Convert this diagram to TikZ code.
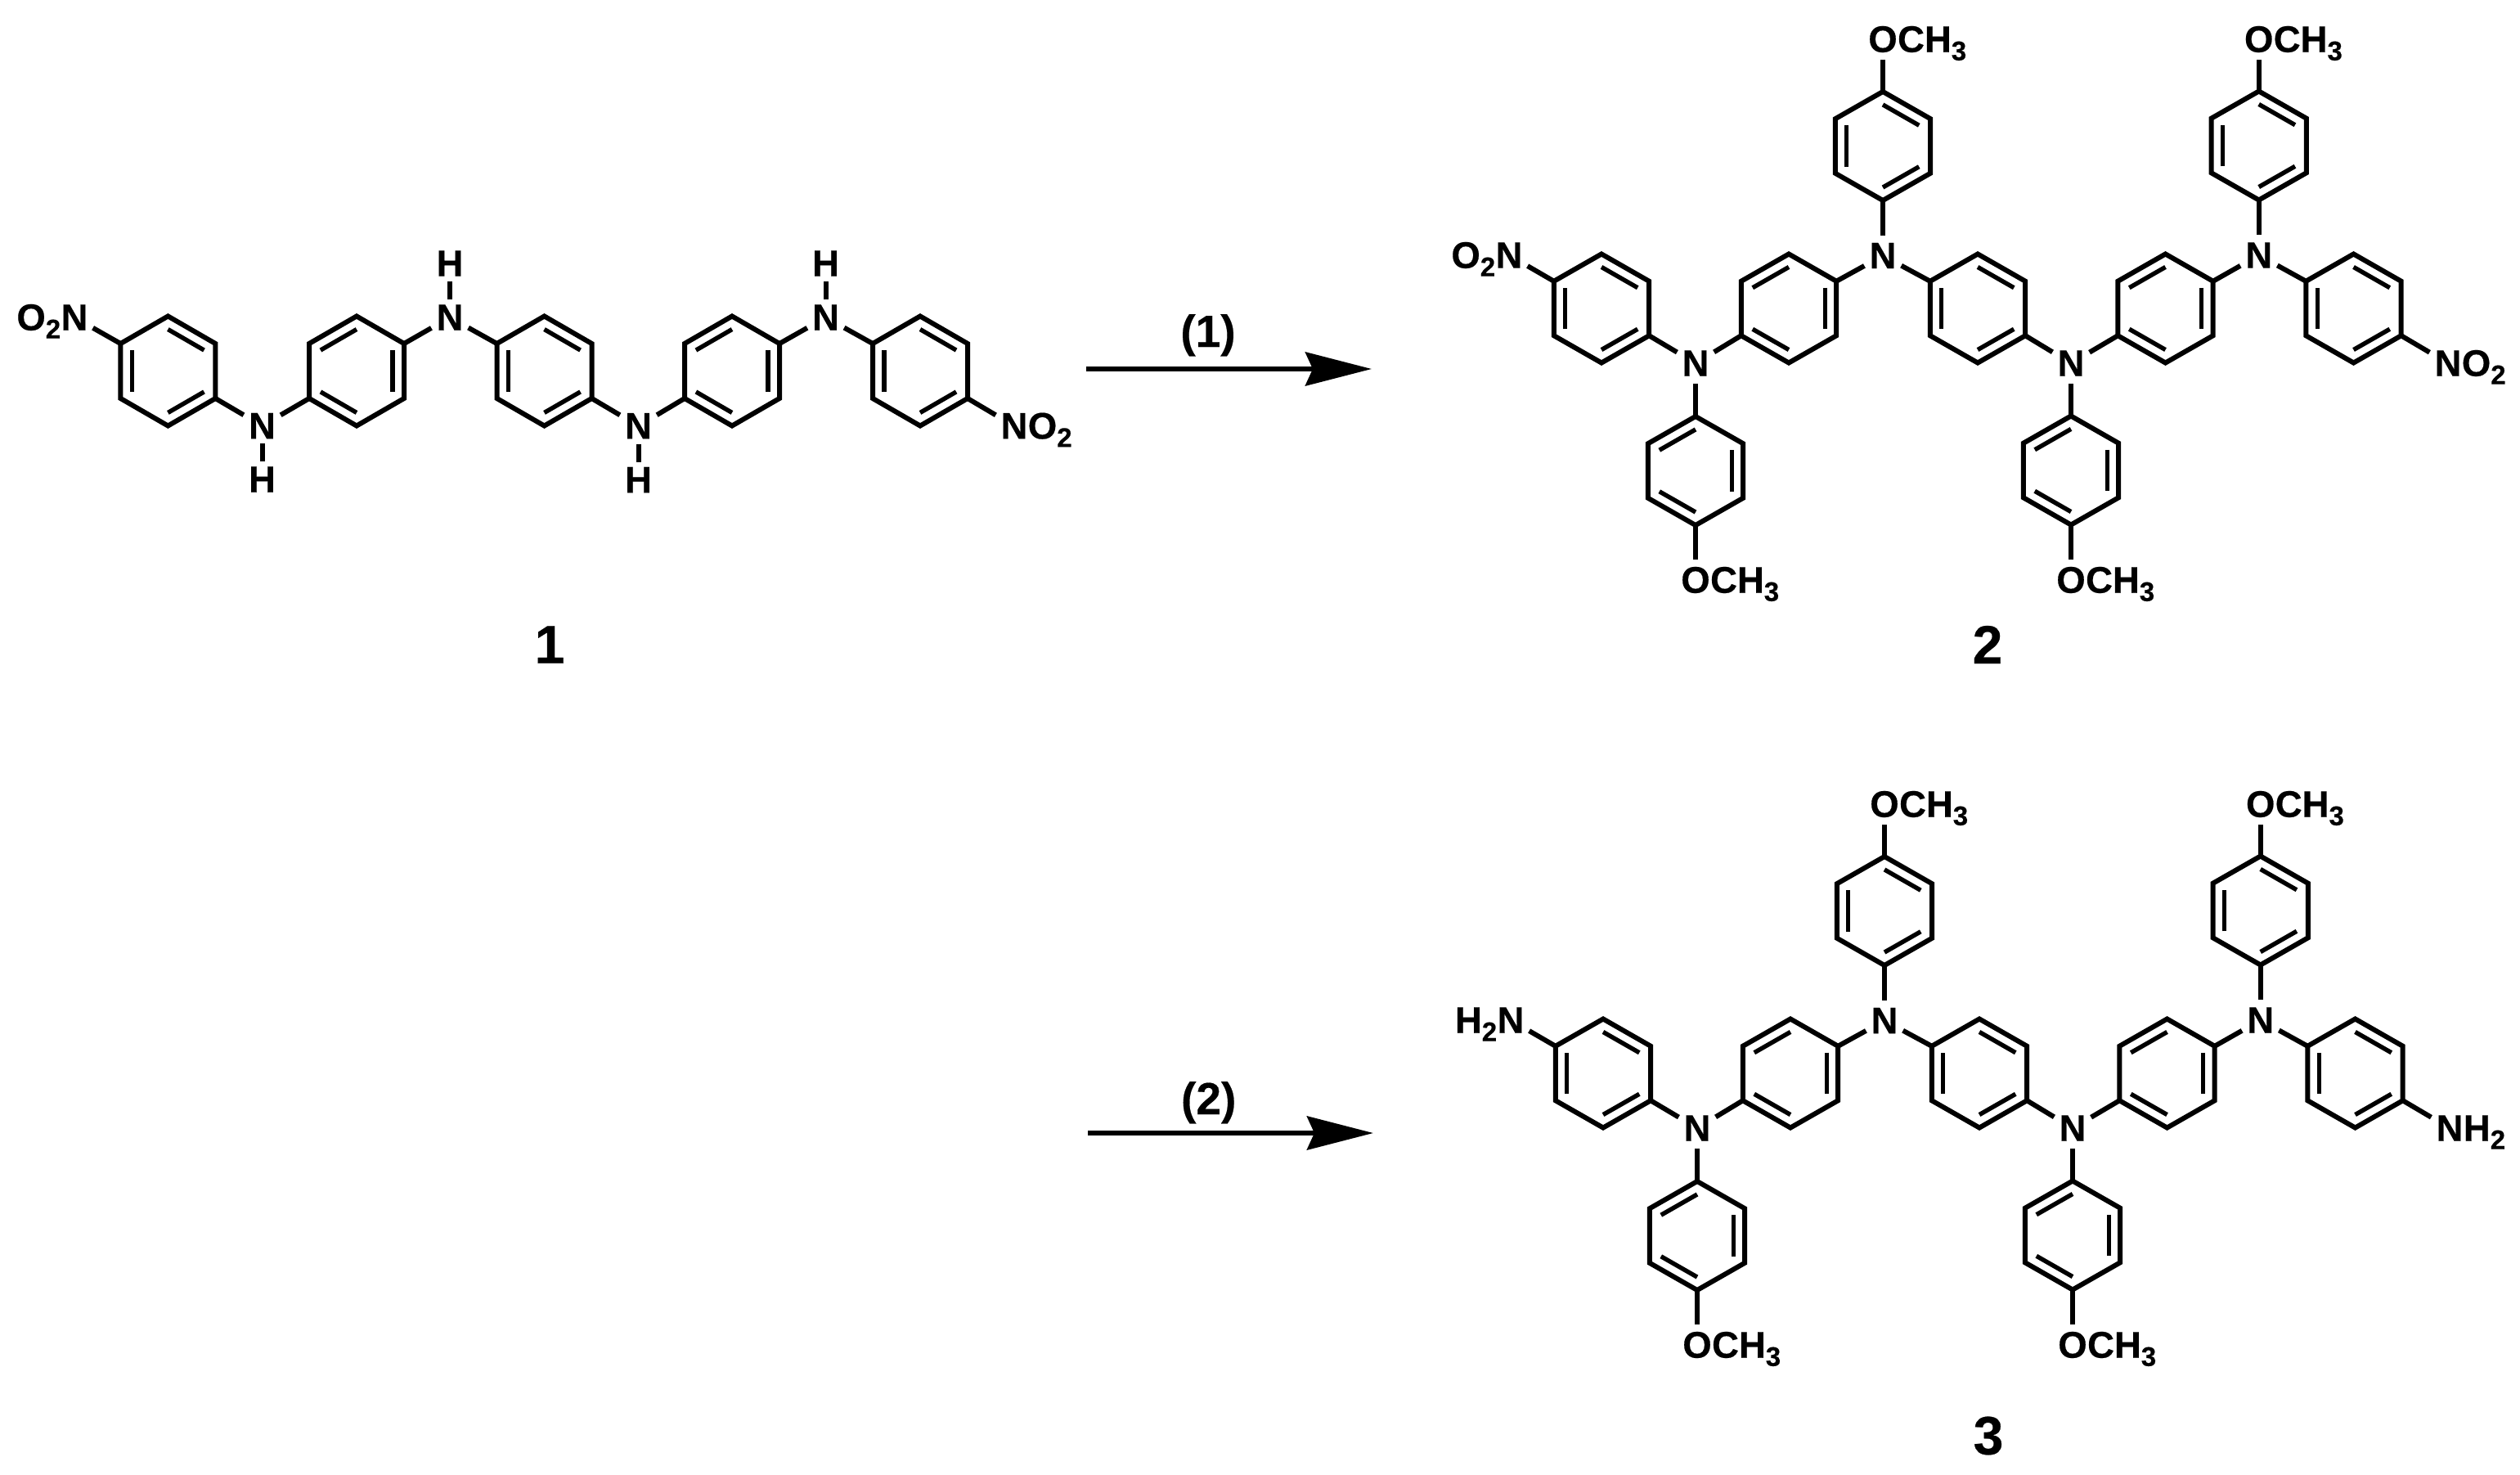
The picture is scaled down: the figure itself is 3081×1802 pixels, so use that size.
\documentclass[tikz,border=0pt]{standalone}
\usepackage{fontspec}
\setmainfont{Liberation Sans}[BoldFeatures={FakeBold=0.4}]
\usetikzlibrary{calc,arrows.meta}
\newcommand\lowd[1]{\raisebox{-10pt}{\fontsize{33}{33}\selectfont #1}}
\def\hexr{66.5}
\def\hexh{58.2}
\def\inr{0.76}
\tikzset{
  bond/.style={line width=6pt,line cap=butt,line join=miter,black},
  atom/.style={font=\fontsize{45.5}{50}\selectfont\bfseries,inner xsep=6pt,inner ysep=9pt,text=black},
  atomA/.style={atom,inner ysep=6pt},
  suffix/.style={font=\fontsize{45.5}{50}\selectfont\bfseries,inner sep=0pt,text=black},
  cmpd/.style={font=\fontsize{66}{70}\selectfont\bfseries,inner sep=0pt,text=black},
  cond/.style={font=\fontsize{55}{60}\selectfont\bfseries,inner sep=0pt,text=black,anchor=base},
  rxn/.style={line width=6pt,black,-{Stealth[length=81pt,width=41pt,inset=9pt]}},
}
% hexagon: 1 top, 2 upper right, 3 lower right, 4 bottom, 5 lower left, 6 upper left
\newcommand\hexring[3]{%
  \coordinate (#1-c) at (#2,#3);
  \coordinate (#1-1) at ($(#1-c)+(0,-\hexr)$);
  \coordinate (#1-2) at ($(#1-c)+(\hexh,-\hexr/2)$);
  \coordinate (#1-3) at ($(#1-c)+(\hexh,\hexr/2)$);
  \coordinate (#1-4) at ($(#1-c)+(0,\hexr)$);
  \coordinate (#1-5) at ($(#1-c)+(-\hexh,\hexr/2)$);
  \coordinate (#1-6) at ($(#1-c)+(-\hexh,-\hexr/2)$);
  \draw[bond] (#1-1)--(#1-2)--(#1-3)--(#1-4)--(#1-5)--(#1-6)--cycle;
}
\newcommand\inbond[3]{\draw[bond,line width=5.4pt] ($(#1-c)!\inr!(#1-#2)$) -- ($(#1-c)!\inr!(#1-#3)$);}
\newcommand\ringC[3]{\hexring{#1}{#2}{#3}\inbond{#1}{1}{2}\inbond{#1}{3}{4}\inbond{#1}{5}{6}}
\newcommand\ringB[3]{\hexring{#1}{#2}{#3}\inbond{#1}{6}{1}\inbond{#1}{2}{3}\inbond{#1}{4}{5}}
\newcommand\methoxy[3]{%
  \node[atom] (#1) at (#2,#3) {O};
  \node[suffix,anchor=base west] (#1-me) at ([xshift=-6pt]#1.base east) {CH\lowd{3}};
}
% common skeleton of compounds 2 and 3
\newcommand\bigmol[1]{%
  \ringC{#1L}{1958}{377}
  \ringB{#1M}{2187}{377}
  \ringC{#1C}{2418}{377}
  \ringB{#1P}{2647.5}{377}
  \ringC{#1R}{2877.5}{377}
  \ringC{#1T}{2302}{178.5}
  \ringC{#1U}{2761.7}{178}
  \ringB{#1B}{2073}{575.5}
  \ringB{#1D}{2532}{575}
  \node[atom] (#1n1) at (2073,444) {N};
  \node[atom] (#1n2) at (2302,312.5) {N};
  \node[atom] (#1n3) at (2532,444) {N};
  \node[atom] (#1n4) at (2761.7,312) {N};
  \node[atom] (#1nl) at (1845,312) {N};
  \node[atom] (#1nr) at (2993,444) {N};
  \methoxy{#1o1}{2302}{48}
  \methoxy{#1o2}{2761.7}{48}
  \methoxy{#1o3}{2073}{709}
  \methoxy{#1o4}{2532}{709}
  \draw[bond] (#1nl)--(#1L-6);
  \draw[bond] (#1L-3)--(#1n1);
  \draw[bond] (#1M-5)--(#1n1);
  \draw[bond] (#1M-2)--(#1n2);
  \draw[bond] (#1C-6)--(#1n2);
  \draw[bond] (#1C-3)--(#1n3);
  \draw[bond] (#1P-5)--(#1n3);
  \draw[bond] (#1P-2)--(#1n4);
  \draw[bond] (#1R-6)--(#1n4);
  \draw[bond] (#1R-3)--(#1nr);
  \draw[bond] (#1T-4)--(#1n2);
  \draw[bond] (#1U-4)--(#1n4);
  \draw[bond] (#1B-1)--(#1n1);
  \draw[bond] (#1D-1)--(#1n3);
  \draw[bond] (#1T-1)--(#1o1);
  \draw[bond] (#1U-1)--(#1o2);
  \draw[bond] (#1B-4)--(#1o3);
  \draw[bond] (#1D-4)--(#1o4);
}
\begin{document}
\begin{tikzpicture}[x=1pt,y=-1pt]
\useasboundingbox (0,0) rectangle (3081,1802);
\fill[white] (0,0) rectangle (3081,1802);
% compound 1
\def\hexr{67}
\def\hexh{58}
\ringC{a}{205.4}{453.5}
\ringB{b}{436}{453.5}
\ringC{c}{665.5}{453.5}
\ringB{d}{895}{453.5}
\ringC{e}{1125}{453.5}
\node[atomA] (an) at (91,388) {N};
\node[suffix,anchor=base east] (ano) at ([xshift=6pt]an.base west) {O\lowd{2}};
\node[atomA] (n1) at (320.5,520.5) {N};
\node[atomA] (h1) at (320.5,586) {H};
\node[atomA] (n2) at (550,388) {N};
\node[atomA] (h2) at (550,322) {H};
\node[atomA] (n3) at (780.5,520.7) {N};
\node[atomA] (h3) at (780.5,586.5) {H};
\node[atomA] (n4) at (1009.5,388) {N};
\node[atomA] (h4) at (1009.5,322) {H};
\node[atomA] (en) at (1240,520.7) {N};
\node[suffix,anchor=base west] (eno) at ([xshift=-6pt]en.base east) {O\lowd{2}};
\draw[bond] (an)--(a-6);
\draw[bond] (a-3)--(n1);
\draw[bond] (b-5)--(n1);
\draw[bond] (b-2)--(n2);
\draw[bond] (c-6)--(n2);
\draw[bond] (c-3)--(n3);
\draw[bond] (d-5)--(n3);
\draw[bond] (d-2)--(n4);
\draw[bond] (e-6)--(n4);
\draw[bond] (e-3)--(en);
\draw[bond] (n1)--(h1);
\draw[bond] (n2)--(h2);
\draw[bond] (n3)--(h3);
\draw[bond] (n4)--(h4);
\node[cmpd] (c1) at (672,788) {1};
% compound 2
\def\hexr{66.5}
\def\hexh{58.2}
\bigmol{s}
\node[suffix,anchor=base east] (slo) at ([xshift=6pt]snl.base west) {O\lowd{2}};
\node[suffix,anchor=base west] (sro) at ([xshift=-6pt]snr.base east) {O\lowd{2}};
\node[cmpd] (c2) at (2430,788) {2};
% compound 3
\begin{scope}[shift={(2,935)}]
\bigmol{t}
\node[suffix,anchor=base east] (tlh) at ([xshift=6pt]tnl.base west) {H\lowd{2}};
\node[suffix,anchor=base west] (trh) at ([xshift=-6pt]tnr.base east) {H\lowd{2}};
\end{scope}
\node[cmpd] (c3) at (2431,1755) {3};
% reaction arrows
\coordinate (r1a) at (1328,451);
\coordinate (r1b) at (1677,451);
\draw[rxn] (r1a)--(r1b);
\node[cond] (r1t) at (1477,424) {(1)};
\coordinate (r2a) at (1330,1385);
\coordinate (r2b) at (1679,1385);
\draw[rxn] (r2a)--(r2b);
\node[cond] (r2t) at (1477.7,1362) {(2)};
\end{tikzpicture}
\end{document}
